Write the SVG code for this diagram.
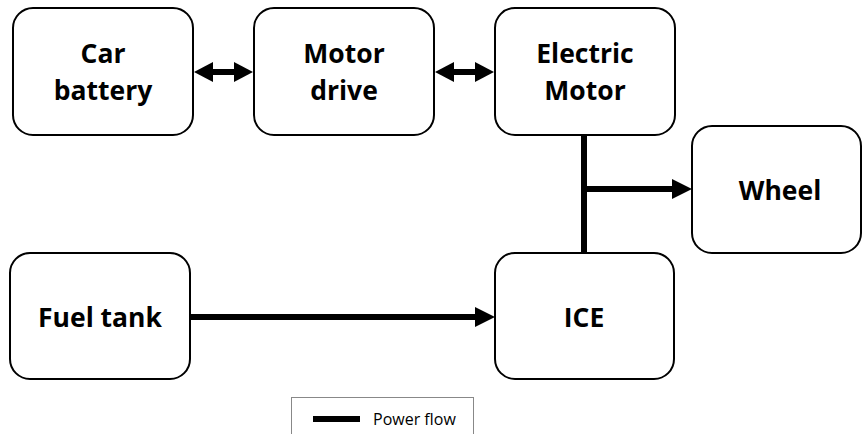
<svg xmlns="http://www.w3.org/2000/svg" width="863" height="434" viewBox="0 0 863 434">
<style>
.box{fill:#fff;stroke:#000;stroke-width:2}
.lbl{font-family:"Open Sans","Liberation Sans",sans-serif;font-weight:bold;font-size:26.5px;fill:#000;text-anchor:middle}
.ln{stroke:#000;stroke-width:6;fill:none}
.hd{fill:#000}
</style>
<rect width="863" height="434" fill="#fff"/>
<g id="car-battery"><rect class="box" x="13" y="8" width="180" height="127" rx="20"/><text class="lbl" x="103" y="63">Car</text><text class="lbl" x="103" y="100">battery</text></g>
<g id="motor-drive"><rect class="box" x="254" y="8" width="180" height="127" rx="20"/><text class="lbl" x="344" y="63">Motor</text><text class="lbl" x="344" y="100">drive</text></g>
<g id="electric-motor"><rect class="box" x="495" y="8" width="180" height="127" rx="20"/><text class="lbl" x="585" y="63">Electric</text><text class="lbl" x="585" y="100">Motor</text></g>
<g id="wheel"><rect class="box" x="692" y="126" width="169" height="127" rx="20"/><text class="lbl" x="780" y="200">Wheel</text></g>
<g id="fuel-tank"><rect class="box" x="10" y="253" width="180" height="126" rx="20"/><text class="lbl" x="100" y="327">Fuel tank</text></g>
<g id="ice"><rect class="box" x="495" y="253" width="179" height="126" rx="20"/><text class="lbl" x="584" y="327">ICE</text></g>
<g id="connectors">
<line class="ln" x1="208" y1="72" x2="240" y2="72"/>
<polygon class="hd" points="194,72 213,62 213,82"/>
<polygon class="hd" points="253,72 234,62 234,82"/>
<line class="ln" x1="449" y1="72" x2="481" y2="72"/>
<polygon class="hd" points="435,72 454,62 454,82"/>
<polygon class="hd" points="494,72 475,62 475,82"/>
<line class="ln" x1="584" y1="135" x2="584" y2="253"/>
<line class="ln" x1="584" y1="189" x2="676" y2="189"/>
<polygon class="hd" points="692,189 672,179 672,199"/>
<line class="ln" x1="191" y1="317" x2="480" y2="317"/>
<polygon class="hd" points="495,317 475,307 475,327"/>
</g>
<g id="legend">
<rect x="291.5" y="397.5" width="182" height="40" fill="#fff" stroke="#888" stroke-width="1"/>
<line x1="313" y1="419" x2="360" y2="419" stroke="#000" stroke-width="6"/>
<text x="373" y="425" font-family="Open Sans, Liberation Sans, sans-serif" font-size="16" fill="#000">Power flow</text>
</g>
</svg>
